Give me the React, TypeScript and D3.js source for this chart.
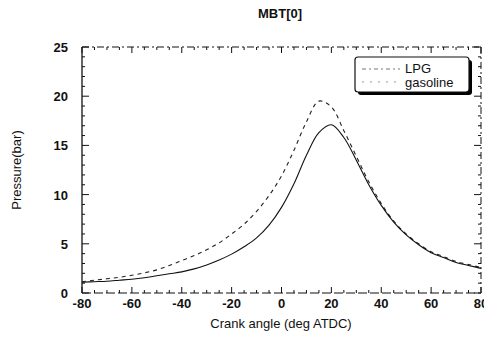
import React from "react";
import * as d3 from "d3";

const angles = [-80,-75,-70,-65,-60,-55,-50,-45,-40,-35,-30,-25,-20,-15,-10,-5,0,5,10,15,20,25,30,35,40,45,50,55,60,65,70,75,80];
const lpg = [1.1,1.15,1.2,1.3,1.4,1.55,1.75,1.95,2.15,2.45,2.85,3.35,3.95,4.7,5.6,6.9,8.7,11.1,14.0,16.3,17.1,15.8,13.5,11.0,8.9,7.2,5.9,4.9,4.1,3.6,3.1,2.8,2.5];
const gasoline = [1.15,1.3,1.45,1.6,1.8,2.05,2.35,2.8,3.3,3.8,4.4,5.1,6.0,7.0,8.3,9.9,11.9,14.5,17.4,19.5,18.9,16.5,13.9,11.3,9.1,7.3,6.0,5.0,4.2,3.7,3.2,2.9,2.6];
const xTicks = [-80,-60,-40,-20,0,20,40,60,80];
const yTicks = [0,5,10,15,20,25];
const seriesNames = ["LPG", "gasoline"];

export default function App() {
  const W = 484, H = 340;
  const L = 82, R = 481, T = 47, B = 293;
  const x = d3.scaleLinear().domain([-80, 80]).range([L, R]);
  const y = d3.scaleLinear().domain([0, 25]).range([B, T]);
  const line = d3.line<number>()
    .x((_, i) => x(angles[i]))
    .y((d) => y(d))
    .curve(d3.curveCatmullRom.alpha(0.5));
  const font = "'Liberation Sans', Arial, sans-serif";
  const xMinor = d3.range(-80, 81, 5);
  const yMinor = d3.range(0, 25.01, 1);
  return (
    <svg width={W} height={H} style={{ position: "absolute", left: 0, top: 0, background: "#fff" }} fontFamily={font}>
      <text x={280} y={18} textAnchor="middle" fontSize={13} fontWeight="bold" fill="#111">MBT[0]</text>
      {/* frame */}
      <line x1={L} y1={T} x2={L} y2={B} stroke="#111" strokeWidth={1.3} />
      <line x1={L} y1={B} x2={R} y2={B} stroke="#111" strokeWidth={1.2} strokeDasharray="9,3" />
      <line x1={L} y1={T} x2={R} y2={T} stroke="#111" strokeWidth={1} strokeDasharray="7,3,2,3" />
      <line x1={R} y1={T} x2={R} y2={B} stroke="#111" strokeWidth={1} strokeDasharray="7,3,2,3" />
      {/* ticks */}
      {xMinor.map((v) => {
        const major = v % 20 === 0;
        const len = major ? 6 : 3;
        return (
          <g key={"xt" + v}>
            <line x1={x(v)} x2={x(v)} y1={B} y2={B - len} stroke="#111" />
            <line x1={x(v)} x2={x(v)} y1={T} y2={T + len} stroke="#111" />
          </g>
        );
      })}
      {yMinor.map((v) => {
        const major = v % 5 === 0;
        const len = major ? 7 : 3;
        return (
          <g key={"yt" + v}>
            <line x1={L} x2={L + len} y1={y(v)} y2={y(v)} stroke="#111" />
            <line x1={R} x2={R - len} y1={y(v)} y2={y(v)} stroke="#111" />
          </g>
        );
      })}
      {xTicks.map((v) => (
        <text key={"xl" + v} x={x(v)} y={308} textAnchor="middle" fontSize={13} fontWeight="bold" fill="#111">{v}</text>
      ))}
      {yTicks.map((v) => (
        <text key={"yl" + v} x={68} y={y(v) + 5} textAnchor="end" fontSize={13} fontWeight="bold" fill="#111">{v}</text>
      ))}
      <text x={281} y={328} textAnchor="middle" fontSize={13} fill="#111">Crank angle (deg ATDC)</text>
      <text transform={`translate(21,${(T + B) / 2}) rotate(-90)`} textAnchor="middle" fontSize={13} fill="#111">Pressure(bar)</text>
      {/* curves */}
      <path d={line(gasoline) || ""} fill="none" stroke="#222" strokeWidth={1.1} strokeDasharray="4,4" />
      <path d={line(lpg) || ""} fill="none" stroke="#111" strokeWidth={1.1} />
      {/* legend */}
      <rect x={358} y={60} width={114} height={35} fill="#000" rx={3} />
      <rect x={355} y={57} width={114} height={35} fill="#fff" stroke="#111" strokeWidth={1.2} rx={3} />
      <line x1={362} x2={400} y1={69} y2={69} stroke="#777" strokeDasharray="4,3,2,3" />
      <line x1={362} x2={400} y1={82} y2={82} stroke="#999" strokeDasharray="2,6" />
      <text x={405} y={73} fontSize={13} fill="#111">{seriesNames[0]}</text>
      <text x={405} y={87} fontSize={13} fill="#111">{seriesNames[1]}</text>
    </svg>
  );
}
